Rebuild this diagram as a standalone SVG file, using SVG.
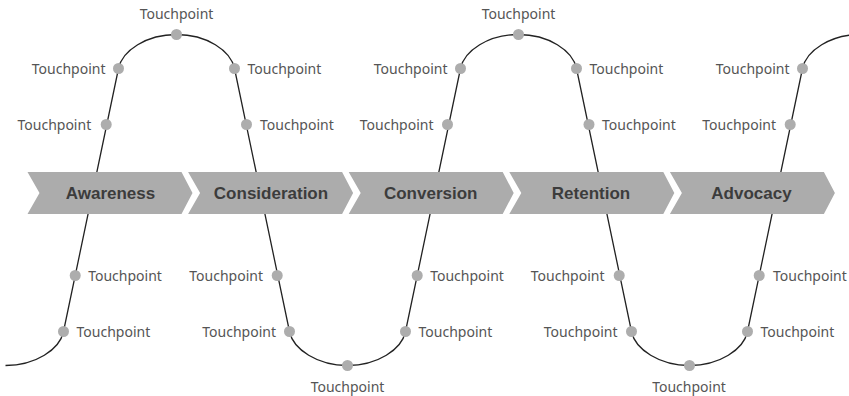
<svg xmlns="http://www.w3.org/2000/svg" width="849" height="396" viewBox="0 0 849 396">
<style>
.curve{fill:none;stroke:#222;stroke-width:1.3}
.stage{fill:#acacac}
.stxt{font-family:"Liberation Sans",Arial,sans-serif;font-weight:bold;font-size:17px;fill:#3c3c3c;text-anchor:middle}
.dot{fill:#adadad}
.tp{font-family:"Noto Sans","Liberation Sans",Arial,sans-serif;font-size:14px;fill:#555}
.l{text-anchor:end}
.r{text-anchor:start}
.c{text-anchor:middle}
</style>
<rect width="849" height="396" fill="#fff"/>
<g id="connectors">
<path class="curve" d="M5.5,365.5 C35.5,365.5 59.7,349.5 63.5,331.5 L118.5,68.5 C122.3,50.5 146.5,34.5 176.5,34.5 C206.5,34.5 230.7,50.5 234.5,68.5 L289.5,331.5 C293.3,349.5 317.5,365.5 347.5,365.5 C377.5,365.5 401.7,349.5 405.5,331.5 L460.5,68.5 C464.3,50.5 488.5,34.5 518.5,34.5 C548.5,34.5 572.7,50.5 576.5,68.5 L631.5,331.5 C635.3,349.5 659.5,365.5 689.5,365.5 C719.5,365.5 743.7,349.5 747.5,331.5 L802.5,68.5 C806.3,50.5 830.5,34.5 860.5,34.5"/>
</g>
<g id="stage-awareness">
<path class="stage" d="M27.5,172 L181.5,172 L192.5,193 L181.5,214 L27.5,214 L39.5,193 Z"/>
<text class="stxt" x="110.5" y="199">Awareness</text>
</g>
<g id="stage-consideration">
<path class="stage" d="M188.1,172 L342.1,172 L353.1,193 L342.1,214 L188.1,214 L200.1,193 Z"/>
<text class="stxt" x="271" y="199">Consideration</text>
</g>
<g id="stage-conversion">
<path class="stage" d="M348.7,172 L502.7,172 L513.7,193 L502.7,214 L348.7,214 L360.7,193 Z"/>
<text class="stxt" x="430.7" y="199">Conversion</text>
</g>
<g id="stage-retention">
<path class="stage" d="M509.3,172 L663.3,172 L674.3,193 L663.3,214 L509.3,214 L521.3,193 Z"/>
<text class="stxt" x="591" y="199">Retention</text>
</g>
<g id="stage-advocacy">
<path class="stage" d="M669.9,172 L823.9,172 L834.9,193 L823.9,214 L669.9,214 L681.9,193 Z"/>
<text class="stxt" x="751.5" y="199">Advocacy</text>
</g>
<g id="tp1"><circle class="dot" cx="63.5" cy="331.5" r="5.5"/><text class="tp r" x="76.5" y="336.5">Touchpoint</text></g>
<g id="tp2"><circle class="dot" cx="75.2" cy="275.5" r="5.5"/><text class="tp r" x="88.2" y="280.5">Touchpoint</text></g>
<g id="tp3"><circle class="dot" cx="106.2" cy="124.5" r="5.5"/><text class="tp l" x="91.2" y="129.5">Touchpoint</text></g>
<g id="tp4"><circle class="dot" cx="118.5" cy="68.5" r="5.5"/><text class="tp l" x="105.5" y="73.5">Touchpoint</text></g>
<g id="tp5"><circle class="dot" cx="176.5" cy="34.5" r="5.5"/><text class="tp c" x="176.5" y="18.5">Touchpoint</text></g>
<g id="tp6"><circle class="dot" cx="234.5" cy="68.5" r="5.5"/><text class="tp r" x="247.5" y="73.5">Touchpoint</text></g>
<g id="tp7"><circle class="dot" cx="246.5" cy="124.5" r="5.5"/><text class="tp r" x="260" y="129.5">Touchpoint</text></g>
<g id="tp8"><circle class="dot" cx="277.2" cy="275.5" r="5.5"/><text class="tp l" x="263" y="280.5">Touchpoint</text></g>
<g id="tp9"><circle class="dot" cx="289.5" cy="331.5" r="5.5"/><text class="tp l" x="276" y="336.5">Touchpoint</text></g>
<g id="tp10"><circle class="dot" cx="347.5" cy="365.5" r="5.5"/><text class="tp c" x="347.5" y="391.5">Touchpoint</text></g>
<g id="tp11"><circle class="dot" cx="405.5" cy="331.5" r="5.5"/><text class="tp r" x="418.5" y="336.5">Touchpoint</text></g>
<g id="tp12"><circle class="dot" cx="417.2" cy="275.5" r="5.5"/><text class="tp r" x="430.2" y="280.5">Touchpoint</text></g>
<g id="tp13"><circle class="dot" cx="447.5" cy="124.5" r="5.5"/><text class="tp l" x="433.5" y="129.5">Touchpoint</text></g>
<g id="tp14"><circle class="dot" cx="460.5" cy="68.5" r="5.5"/><text class="tp l" x="447.5" y="73.5">Touchpoint</text></g>
<g id="tp15"><circle class="dot" cx="518.5" cy="34.5" r="5.5"/><text class="tp c" x="518.5" y="18.5">Touchpoint</text></g>
<g id="tp16"><circle class="dot" cx="576.5" cy="68.5" r="5.5"/><text class="tp r" x="589.5" y="73.5">Touchpoint</text></g>
<g id="tp17"><circle class="dot" cx="589" cy="124.5" r="5.5"/><text class="tp r" x="602" y="129.5">Touchpoint</text></g>
<g id="tp18"><circle class="dot" cx="619.2" cy="275.5" r="5.5"/><text class="tp l" x="604.5" y="280.5">Touchpoint</text></g>
<g id="tp19"><circle class="dot" cx="631.5" cy="331.5" r="5.5"/><text class="tp l" x="617.5" y="336.5">Touchpoint</text></g>
<g id="tp20"><circle class="dot" cx="689.5" cy="365.5" r="5.5"/><text class="tp c" x="689" y="391.5">Touchpoint</text></g>
<g id="tp21"><circle class="dot" cx="747.5" cy="331.5" r="5.5"/><text class="tp r" x="760.5" y="336.5">Touchpoint</text></g>
<g id="tp22"><circle class="dot" cx="759.2" cy="275.5" r="5.5"/><text class="tp r" x="773" y="280.5">Touchpoint</text></g>
<g id="tp23"><circle class="dot" cx="790.2" cy="124.5" r="5.5"/><text class="tp l" x="776" y="129.5">Touchpoint</text></g>
<g id="tp24"><circle class="dot" cx="802.5" cy="68.5" r="5.5"/><text class="tp l" x="789.5" y="73.5">Touchpoint</text></g>
</svg>
